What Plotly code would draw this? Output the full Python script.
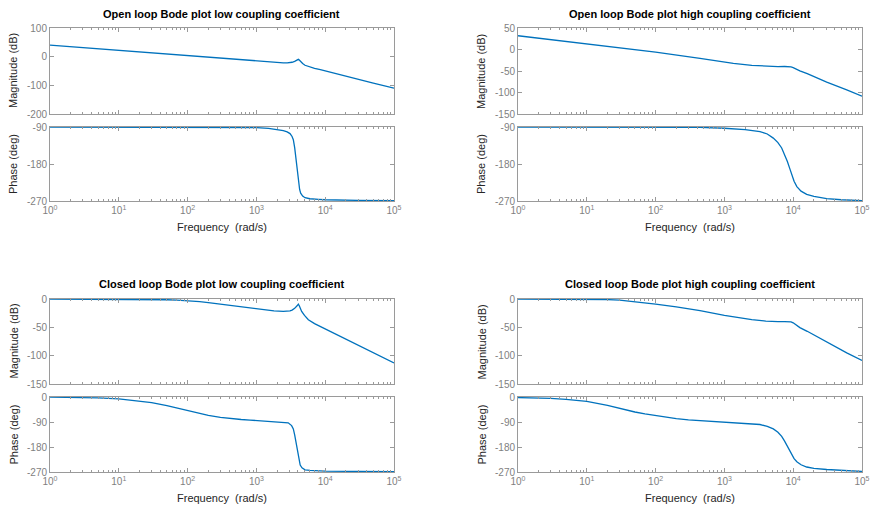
import plotly.graph_objects as go

# ---------------- data ----------------
freq_ticks = [1, 10, 100, 1000, 10000, 100000]
freq_tick_text = ["10<sup>0</sup>", "10<sup>1</sup>", "10<sup>2</sup>", "10<sup>3</sup>",
                  "10<sup>4</sup>", "10<sup>5</sup>"]

titles = ["Open loop Bode plot low coupling coefficient",
          "Open loop Bode plot high coupling coefficient",
          "Closed loop Bode plot low coupling coefficient",
          "Closed loop Bode plot high coupling coefficient"]

# Open loop, low coupling
ol_low_mag_w = [1, 3, 10, 30, 100, 300, 600, 1000, 1500, 2000, 2460, 2800, 3080, 3300, 3600, 3900, 4070, 4200,
                4400, 4700, 5090, 6000, 7000, 8500, 10000, 15000, 22900, 50000, 100000]
ol_low_mag_db = [40, 31, 22, 13, 4, -6, -12, -16, -19, -20.8, -21.5, -21.5, -21, -19.5, -16.5, -12, -9.5, -12,
                 -18, -24, -30, -36, -40.5, -45.5, -50, -61, -73, -92, -110]
ol_low_ph_w = [1, 100, 500, 1000, 1500, 2000, 2460, 2800, 3080, 3300, 3440, 3600, 3770, 3920, 4070, 4250, 4400,
               4700, 5090, 6000, 8000, 10000, 30000, 100000]
ol_low_ph_deg = [-90, -90.2, -90.5, -91.5, -93.5, -96, -99, -102, -106, -113, -121, -140, -166, -196, -223, -242,
                 -251, -258, -262, -264.5, -266, -267, -268.5, -269.3]

# Open loop, high coupling
ol_high_mag_w = [1, 10, 100, 442, 1000, 1350, 2500, 4000, 4600, 6000, 7500, 8500, 9300, 10000, 11000, 12500,
                 16000, 20000, 30700, 60000, 100000]
ol_high_mag_db = [32, 13, -6, -20.5, -29, -32.5, -37, -39, -39.4, -39.8, -39.5, -39.5, -40.5, -42, -45.5, -49.6,
                  -56, -63, -76, -94, -108.5]
ol_high_ph_w = [1, 100, 442, 1000, 1350, 2000, 3290, 4200, 5140, 6000, 6800, 7500, 8230, 9000, 9500, 10300,
                11300, 13000, 15700, 20000, 30700, 50000, 100000]
ol_high_ph_deg = [-90, -90.3, -91, -93, -94, -96.5, -101, -107, -117, -128, -141, -156, -174, -193, -207, -222,
                  -235, -246, -254, -259, -264, -267, -269]

# Closed loop, low coupling
cl_low_mag_w = [1, 10, 20, 30, 50, 70, 100, 150, 200, 300, 400, 600, 807, 1200, 1800, 2460, 2800, 3080, 3300,
                3600, 3900, 4070, 4200, 4400, 4550, 5000, 5690, 7000, 8500, 10000, 15000, 22900, 50000, 100000]
cl_low_mag_db = [0, -0.1, -0.3, -0.6, -1.3, -2, -3, -4.7, -6.3, -8.9, -11, -13.8, -16, -19, -21, -22, -22, -21,
                 -19.5, -16.5, -12, -9, -12, -18, -22, -29, -36.5, -43.5, -48.5, -53, -64, -75, -95, -113]
cl_low_ph_w = [1, 2, 5, 10, 20, 30, 50, 70, 100, 150, 200, 300, 400, 600, 807, 1200, 1800, 2460, 2900, 3250,
               3440, 3600, 3770, 3940, 4100, 4330, 4600, 5090, 6000, 10000, 100000]
cl_low_ph_deg = [-0.7, -1.4, -3.4, -7, -13.5, -20, -31, -40, -50, -60, -66, -73, -77, -81, -83, -85.5, -87.5,
                 -89.5, -93, -103, -115, -136, -166, -196, -222, -245, -255, -262, -264.5, -267, -269]

# Closed loop, high coupling
cl_high_mag_w = [1, 10, 20, 30, 50, 70, 100, 200, 442, 1000, 1350, 2500, 4000, 4600, 6000, 7500, 8500, 9300,
                 10000, 11000, 12500, 16000, 20000, 30700, 60000, 100000]
cl_high_mag_db = [0, -0.3, -1, -2, -4.5, -6.7, -9, -14, -20.6, -29, -31.8, -36.5, -39, -39.5, -40, -39.8, -39.6,
                  -40.5, -42, -46, -50.5, -57, -63.5, -77, -95, -108.5]
cl_high_ph_w = [1, 2, 3, 5, 10, 20, 30, 50, 70, 100, 200, 300, 442, 700, 1000, 1350, 2000, 3290, 4200, 5140,
                6000, 6800, 7500, 8230, 9000, 9500, 10300, 11300, 13000, 15700, 20000, 30700, 50000, 100000]
cl_high_ph_deg = [-2, -3.5, -5, -8.5, -15.7, -30, -41, -54, -61, -67, -78, -82, -85, -87.5, -89, -91, -94, -99,
                  -106, -115, -127, -142, -159, -178, -196, -208, -222, -233, -244, -252, -257, -261, -265, -268]

# y-axis ticks per plot
mag_ticks_ol_low = [100, 0, -100, -200]
mag_ticks_ol_high = [50, 0, -50, -100, -150]
mag_ticks_cl = [0, -50, -100, -150]
ph_ticks_ol = [-90, -180, -270]
ph_ticks_cl = [0, -90, -180, -270]

# ---------------- layout geometry ----------------
W, H = 879, 510

def px(x):
    return x / W
def py(y):
    return 1 - y / H
def xd(a, b):
    return [px(a), px(b)]
def yd(top, bottom):
    return [py(bottom), py(top)]

LEFT = (50, 394)
RIGHT = (518, 862)
TOP_MAG = (28, 114)
TOP_PH = (127, 201)
BOT_MAG = (299, 384)
BOT_PH = (397, 472)

panels = [
    (LEFT, TOP_MAG, ol_low_mag_w, ol_low_mag_db, [-200, 100], mag_ticks_ol_low, False),
    (LEFT, TOP_PH, ol_low_ph_w, ol_low_ph_deg, [-270, -90], ph_ticks_ol, True),
    (RIGHT, TOP_MAG, ol_high_mag_w, ol_high_mag_db, [-150, 50], mag_ticks_ol_high, False),
    (RIGHT, TOP_PH, ol_high_ph_w, ol_high_ph_deg, [-270, -90], ph_ticks_ol, True),
    (LEFT, BOT_MAG, cl_low_mag_w, cl_low_mag_db, [-150, 0], mag_ticks_cl, False),
    (LEFT, BOT_PH, cl_low_ph_w, cl_low_ph_deg, [-270, 0], ph_ticks_cl, True),
    (RIGHT, BOT_MAG, cl_high_mag_w, cl_high_mag_db, [-150, 0], mag_ticks_cl, False),
    (RIGHT, BOT_PH, cl_high_ph_w, cl_high_ph_deg, [-270, 0], ph_ticks_cl, True),
]

AX_COL = "#9a9a9a"
FONT_FAM = "Liberation Sans, Arial, sans-serif"
TICK_FONT = dict(family=FONT_FAM, size=10, color="#7f7f7f")
LINE_COL = "#0072bd"

fig = go.Figure()
layout = dict(
    width=W, height=H, margin=dict(l=0, r=0, t=0, b=0, pad=0, autoexpand=False),
    paper_bgcolor="white", plot_bgcolor="white", showlegend=False,
    font=dict(family=FONT_FAM),
)

for i, (xp, yp, w, v, yr, yt, showx) in enumerate(panels, start=1):
    sfx = "" if i == 1 else str(i)
    fig.add_trace(go.Scatter(x=w, y=v, mode="lines", line=dict(color=LINE_COL, width=1.3),
                             xaxis="x" + sfx, yaxis="y" + sfx, hoverinfo="skip"))
    layout["xaxis" + sfx] = dict(
        domain=xd(*xp), anchor="y" + sfx, type="log", range=[0, 5], automargin=False,
        tickmode="array", tickvals=freq_ticks, ticktext=freq_tick_text,
        showticklabels=showx, ticks="inside", ticklen=4, tickcolor=AX_COL,
        showline=True, linecolor=AX_COL, linewidth=1, mirror="allticks",
        showgrid=False, zeroline=False, tickfont=TICK_FONT,
        minor=dict(ticks="inside", ticklen=2, tickcolor=AX_COL, showgrid=False, dtick="D1"),
    )
    layout["yaxis" + sfx] = dict(
        domain=yd(*yp), anchor="x" + sfx, range=yr, automargin=False,
        tickmode="array", tickvals=yt, ticktext=[str(t) for t in yt],
        ticks="inside", ticklen=4, tickcolor=AX_COL,
        showline=True, linecolor=AX_COL, linewidth=1, mirror="allticks",
        showgrid=False, zeroline=False, tickfont=TICK_FONT,
    )

fig.update_layout(**layout)

ann = []
TITLE_FONT = dict(family=FONT_FAM, size=11, color="#000000")
LAB_FONT = dict(family=FONT_FAM, size=11, color="#262626")
title_pos = [(LEFT, 14), (RIGHT, 14), (LEFT, 284), (RIGHT, 284)]
for t, (xp, ypix) in zip(titles, title_pos):
    ann.append(dict(text="<b>" + t + "</b>", x=px((xp[0] + xp[1]) / 2), y=py(ypix),
                    xref="paper", yref="paper", showarrow=False, font=TITLE_FONT,
                    xanchor="center", yanchor="middle"))
for xp in (LEFT, RIGHT):
    for ypix in (227, 498):
        ann.append(dict(text="Frequency  (rad/s)", x=px((xp[0] + xp[1]) / 2), y=py(ypix),
                        xref="paper", yref="paper", showarrow=False, font=LAB_FONT,
                        xanchor="center", yanchor="middle"))
    for (yp, lab) in ((TOP_MAG, "Magnitude (dB)"), (TOP_PH, "Phase (deg)"),
                      (BOT_MAG, "Magnitude (dB)"), (BOT_PH, "Phase (deg)")):
        ann.append(dict(text=lab, x=px(xp[0] - 37), y=py((yp[0] + yp[1]) / 2), textangle=-90,
                        xref="paper", yref="paper", showarrow=False, font=LAB_FONT,
                        xanchor="center", yanchor="middle"))
fig.update_layout(annotations=ann)

fig.write_html("out.html")
